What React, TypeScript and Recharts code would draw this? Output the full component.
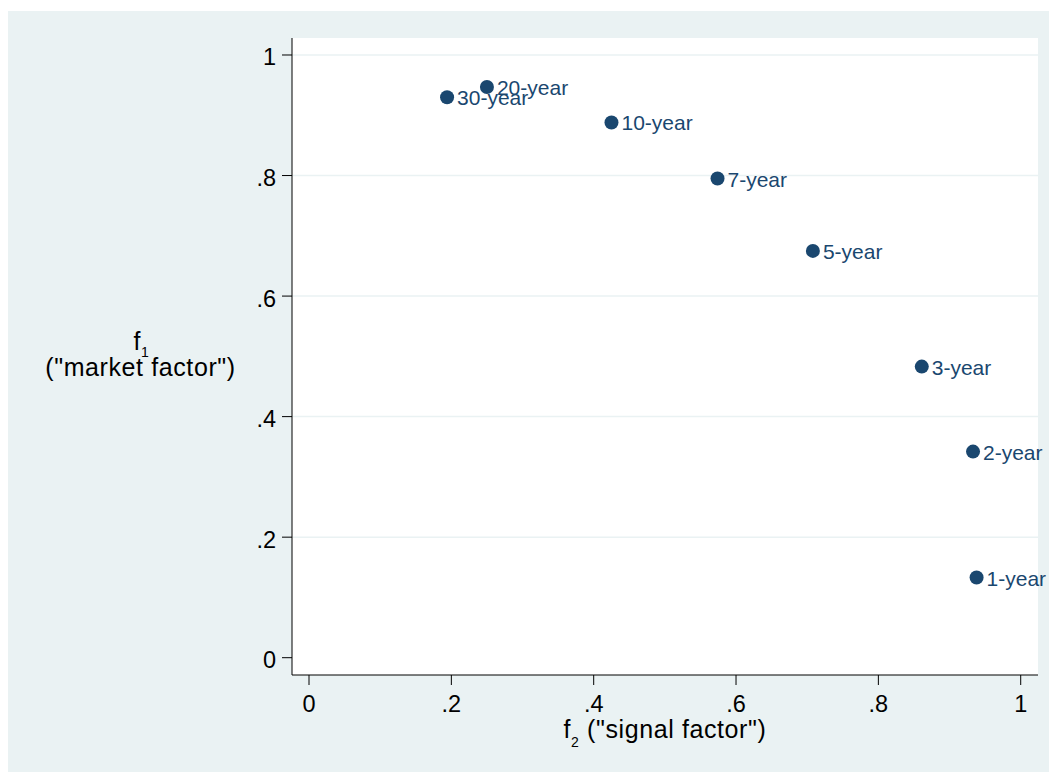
import { CartesianGrid, Label, Scatter, ScatterChart, XAxis, YAxis } from "recharts";

const names = ["1-year", "2-year", "3-year", "5-year", "7-year", "10-year", "20-year", "30-year"];
const signalFactor = [0.938, 0.933, 0.861, 0.708, 0.574, 0.425, 0.25, 0.194];
const marketFactor = [0.133, 0.342, 0.483, 0.675, 0.795, 0.888, 0.947, 0.93];
const xTicks = [0, 0.2, 0.4, 0.6, 0.8, 1];
const yTicks = [0, 0.2, 0.4, 0.6, 0.8, 1];
const gridValues = [0.2, 0.4, 0.6, 0.8, 1];

const data = names.map((name, i) => ({
  name,
  f2: signalFactor[i],
  f1: marketFactor[i],
}));

const FONT = '"Liberation Sans", Arial, Helvetica, sans-serif';
const NAVY = "#1a476f";
const BG = "#eaf2f3";

const fmt = (v: number) => (v === 0 ? "0" : v === 1 ? "1" : String(v).replace(/^0/, ""));

function XTick({ x, y, payload }: any) {
  return (
    <text x={x} y={y + 27} textAnchor="middle" fontSize={23.5} fontFamily={FONT} fill="#000">
      {fmt(payload.value)}
    </text>
  );
}

function YTick({ x, y, payload }: any) {
  return (
    <text x={x} y={y + 10.5} textAnchor="end" fontSize={23.5} fontFamily={FONT} fill="#000">
      {fmt(payload.value)}
    </text>
  );
}

function Dot(props: any) {
  const { cx, cy, payload } = props;
  return (
    <g>
      <circle cx={cx} cy={cy} r={7} fill={NAVY} />
      <text x={cx + 10} y={cy + 8} fontSize={21} fontFamily={FONT} fill={NAVY}>
        {payload.name}
      </text>
    </g>
  );
}

function YTitle({ viewBox }: any) {
  const cx = viewBox.x + 132.5;
  return (
    <text textAnchor="middle" fontFamily={FONT} fill="#000" fontSize={25} letterSpacing={0.6}>
      <tspan x={cx + 1} y={339}>
        f
      </tspan>
      <tspan fontSize={14} dy={7}>
        1
      </tspan>
      <tspan x={cx} y={365}>
        ("market factor")
      </tspan>
    </text>
  );
}

function XTitle({ viewBox }: any) {
  const cx = viewBox.x + viewBox.width / 2;
  return (
    <text
      x={cx}
      y={727}
      textAnchor="middle"
      fontFamily={FONT}
      fill="#000"
      fontSize={25}
      letterSpacing={0.6}
    >
      f
      <tspan fontSize={14} dy={9}>
        2
      </tspan>
      <tspan dy={-9}> ("signal factor")</tspan>
    </text>
  );
}

export default function App() {
  return (
    <div
      style={{
        position: "absolute",
        left: 8,
        top: 11,
        width: 1041,
        height: 761,
        background: BG,
      }}
    >
      <ScatterChart
        width={1041}
        height={761}
        margin={{ top: 27, right: 11, left: 0, bottom: 0 }}
        style={{ overflow: "visible" }}
      >
        <CartesianGrid
          fill="#ffffff"
          vertical={false}
          horizontalValues={gridValues}
          stroke={BG}
          strokeWidth={1.5}
        />
        <XAxis
          type="number"
          dataKey="f2"
          domain={[-0.0239, 1.0243]}
          ticks={xTicks}
          height={97}
          tickSize={10}
          tickMargin={0}
          tick={<XTick />}
          axisLine={{ stroke: "#000", strokeWidth: 1 }}
          tickLine={{ stroke: "#000", strokeWidth: 1 }}
        >
          <Label content={<XTitle />} />
        </XAxis>
        <YAxis
          type="number"
          dataKey="f1"
          domain={[-0.0287, 1.0282]}
          ticks={yTicks}
          width={284}
          tickSize={10}
          tickMargin={6}
          tick={<YTick />}
          axisLine={{ stroke: "#000", strokeWidth: 1 }}
          tickLine={{ stroke: "#000", strokeWidth: 1 }}
        >
          <Label content={<YTitle />} />
        </YAxis>
        <Scatter data={data} shape={<Dot />} isAnimationActive={false} />
      </ScatterChart>
    </div>
  );
}
